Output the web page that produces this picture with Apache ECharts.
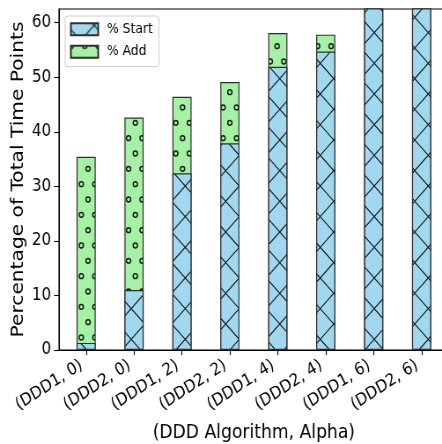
<!DOCTYPE html>
<html>
<head>
<meta charset="utf-8">
<script src="https://cdn.jsdelivr.net/npm/echarts@6/dist/echarts.min.js"></script>
<style>
  html, body { margin: 0; padding: 0; overflow: hidden; background: #ffffff; }
  /* drawn on a wider canvas, then narrowed horizontally to the page width */
  #chart { width: 502px; height: 444px; transform: scaleX(0.8805); transform-origin: 0 0; }
</style>
</head>
<body>
<div id="chart"></div>
<script>
// ---- data ----
const categories = ['(DDD1, 0)', '(DDD2, 0)', '(DDD1, 2)', '(DDD2, 2)',
                    '(DDD1, 4)', '(DDD2, 4)', '(DDD1, 6)', '(DDD2, 6)'];
const startPct = [1.3, 11.0, 32.4, 37.9, 51.9, 54.7, 70.0, 72.0];
const addPct   = [34.1, 31.6, 14.0, 11.2, 6.2, 3.1, 1.8, 1.5];
const yTicks = [0, 10, 20, 30, 40, 50, 60];
const xTicks = [0, 1, 2, 3, 4, 5, 6, 7];

// the "% Add" segment sits on top of "% Start": its bar spans 0 .. start + add,
// and the "% Start" bar is painted over its lower part
const totalPct = startPct.map((v, i) => v + addPct[i]);

// ---- styling ----
const FONT = 'DejaVu Sans';
const BLUE = '#a1d8ef';
const GREEN = '#a6f1a6';
const EDGE = '#2e2e2e';
const INK = 'rgba(0,0,0,0.88)';
const TILE = 92;

// repeating hatch tiles (crossed diagonals / small rings)
function makeTile(bg, draw) {
  const c = document.createElement('canvas');
  c.width = TILE; c.height = TILE;
  const g = c.getContext('2d');
  g.fillStyle = bg;
  g.fillRect(0, 0, TILE, TILE);
  g.strokeStyle = INK;
  draw(g);
  return c;
}

const crossTile = makeTile(BLUE, g => {
  const step = TILE / 3;
  const ax = 11, ay = 17.3;
  g.lineWidth = 1.15;
  g.beginPath();
  for (let k = -6; k <= 6; k++) {
    const c1 = ax - ay + k * step;
    g.moveTo(c1 - TILE, -TILE); g.lineTo(c1 + 2 * TILE, 2 * TILE);
    const c2 = ax + ay + k * step;
    g.moveTo(c2 + TILE, -TILE); g.lineTo(c2 - 2 * TILE, 2 * TILE);
  }
  g.stroke();
});

const ringTile = makeTile(GREEN, g => {
  const sy = TILE / 3, sx = TILE / 6;
  const px = 8, py = 15.5;
  g.lineWidth = 1.5;
  for (let i = -1; i <= 7; i++) {
    for (let j = -1; j <= 3; j++) {
      [[px + i * sx, py + j * sy], [px + sx / 2 + i * sx, py + sy / 2 + j * sy]].forEach(([x, y]) => {
        g.beginPath();
        g.arc(x, y, 2.4, 0, Math.PI * 2);
        g.stroke();
      });
    }
  }
});

const chart = echarts.init(document.getElementById('chart'), null, { renderer: 'canvas' });

chart.setOption({
  animation: false,
  backgroundColor: '#ffffff',
  textStyle: { fontFamily: FONT },
  grid: {
    left: 67, right: -7.6, top: 9, bottom: 94,
    outerBoundsMode: 'none',
    containLabel: false,
    show: true, borderColor: '#000', borderWidth: 1.1, backgroundColor: 'transparent'
  },
  legend: {
    orient: 'vertical',
    left: 74, top: 16,
    padding: [6.3, 7, 8, 5.5],
    itemWidth: 31, itemHeight: 12, itemGap: 8.4,
    backgroundColor: 'rgba(255,255,255,0.8)',
    borderColor: '#cccccc', borderWidth: 1, borderRadius: 3,
    icon: 'rect',
    textStyle: { fontFamily: FONT, fontSize: 14, color: '#000', padding: [0, 0, 0, 5] },
    data: ['% Start', '% Add']
  },
  xAxis: {
    type: 'value',
    min: -0.566, max: 7.566,
    name: '(DDD Algorithm, Alpha)',
    nameLocation: 'middle', nameGap: 73,
    nameTextStyle: { fontFamily: FONT, fontSize: 19.5, color: '#000' },
    axisLine: { show: true, onZero: false, lineStyle: { color: '#000', width: 1.1 } },
    axisTick: { show: true, customValues: xTicks, length: 5, lineStyle: { color: '#000', width: 1.1 } },
    axisLabel: {
      customValues: xTicks,
      formatter: v => categories[v],
      rotate: 30, margin: 11, padding: [0, 6, 0, 0],
      fontFamily: FONT, fontSize: 17, color: '#000'
    },
    splitLine: { show: false }
  },
  yAxis: {
    type: 'value',
    min: 0, max: 62.5,
    name: 'Percentage of Total Time Points',
    nameLocation: 'middle', nameGap: 36, nameMoveOverlap: false,
    nameTextStyle: { fontFamily: FONT, fontSize: 20.2, color: '#000' },
    axisLine: { show: true, onZero: false, lineStyle: { color: '#000', width: 1.1 } },
    axisTick: { show: true, customValues: yTicks, length: 5.5, lineStyle: { color: '#000', width: 1.1 } },
    axisLabel: { customValues: yTicks, margin: 9, fontFamily: FONT, fontSize: 17, color: '#000' },
    splitLine: { show: false }
  },
  series: [
    {
      name: '% Add', type: 'bar', barWidth: '40%', barGap: '-100%', z: 2,
      itemStyle: { color: { image: ringTile, repeat: 'repeat' }, borderColor: EDGE, borderWidth: 1.2 },
      data: totalPct.map((v, i) => [xTicks[i], v])
    },
    {
      name: '% Start', type: 'bar', barWidth: '40%', barGap: '-100%', z: 3,
      itemStyle: { color: { image: crossTile, repeat: 'repeat' }, borderColor: EDGE, borderWidth: 1.2 },
      data: startPct.map((v, i) => [xTicks[i], v])
    }
  ]
});
</script>
</body>
</html>
